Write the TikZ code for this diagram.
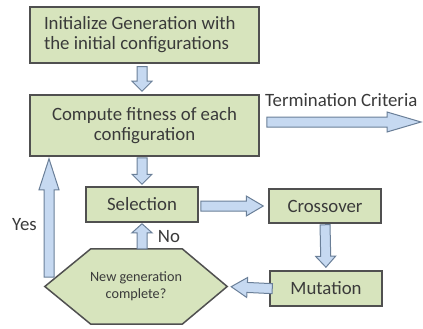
\documentclass[tikz,border=0pt]{standalone}
\usepackage{fontspec}
\setmainfont{Carlito}
\usetikzlibrary{calc,backgrounds}
\definecolor{boxfill}{HTML}{D7E4BD}
\definecolor{boxline}{HTML}{505050}
\definecolor{arrfill}{HTML}{C6D9F1}
\definecolor{arrline}{HTML}{6A7F98}
\definecolor{txt}{HTML}{3A3A3A}
\tikzset{
  box/.style={draw=boxline, line width=1.5pt, fill=boxfill, inner sep=0pt,
    align=center, text=txt, font=\fontsize{18.8}{20}\selectfont},
  lbl/.style={text=txt, inner sep=0pt, font=\fontsize{18.8}{20}\selectfont},
  blockarrow/.style={draw=arrline, line width=1pt, fill=arrfill, line join=miter},
}
% block arrow: \barrow[head length]{from}{to}{gap at start}{gap at end}
\newcommand\barrow[5][10]{%
  \draw[blockarrow] let \p1=(#2), \p2=(#3),
    \n1={atan2(\y2-\y1,\x2-\x1)}, \n2={veclen(\x2-\x1,\y2-\y1)} in
    [shift={(\x1,\y1)}, rotate=\n1]
    (#4,-5) -- ({\n2-#5-#1},-5) -- ({\n2-#5-#1},-10) -- ({\n2-#5},0)
    -- ({\n2-#5-#1},10) -- ({\n2-#5-#1},5) -- (#4,5) -- cycle;}
\begin{document}
\begin{tikzpicture}[x=1pt,y=-1pt]
\useasboundingbox (0,0) rectangle (423,329);

\node[box, align=flush left, inner xsep=14pt, text width=201pt, minimum width=229,
  minimum height=56] (init) at (144.5,35)
  {Initialize Generation with\\the initial configurations};
\node[box, minimum width=229, minimum height=61] (fit) at (144.5,125.5)
  {Compute fitness of each\\configuration};
\node[box, minimum width=112, minimum height=35] (sel) at (142,204.5) {Selection};
\node[box, minimum width=112, minimum height=34] (cross) at (325,206) {Crossover};
\node[box, minimum width=112, minimum height=35] (mut) at (326,288.5) {Mutation};
\node[inner sep=0pt, minimum width=182, minimum height=75, align=center, text=txt,
  font=\fontsize{14.2}{17}\selectfont] (hex) at (136,286.5) {New generation\\complete?};
\begin{scope}[on background layer]
  \draw[box] (hex.west) -- ([xshift=46]hex.north west) -- ([xshift=-45]hex.north east)
    -- (hex.east) -- ([xshift=-45]hex.south east) -- ([xshift=46]hex.south west) -- cycle;
\end{scope}

\coordinate (term) at (421,122);
\coordinate (yestail) at (49,277);

\barrow{sel.center |- init.south}{sel.center |- fit.north}{3}{3}
\barrow{sel.center |- fit.south}{sel.north}{1}{2}
\barrow[34]{fit.east |- term}{term}{7}{0}
\barrow[17]{sel.east |- cross.west}{cross.west}{2}{5}
\barrow[11]{cross.south}{mut.north}{1}{3}
\barrow[16]{mut.west}{hex.east}{-3}{4}
\barrow[9]{sel.center |- hex.north}{sel.south}{0}{1}
\barrow[31]{yestail}{yestail |- fit.south}{0}{2}

\node[lbl, anchor=west] (termlbl) at (265,100) {Termination Criteria};
\node[lbl] (yes) at (24.5,225) {Yes};
\node[lbl] (no) at (169,237) {No};
\end{tikzpicture}
\end{document}
